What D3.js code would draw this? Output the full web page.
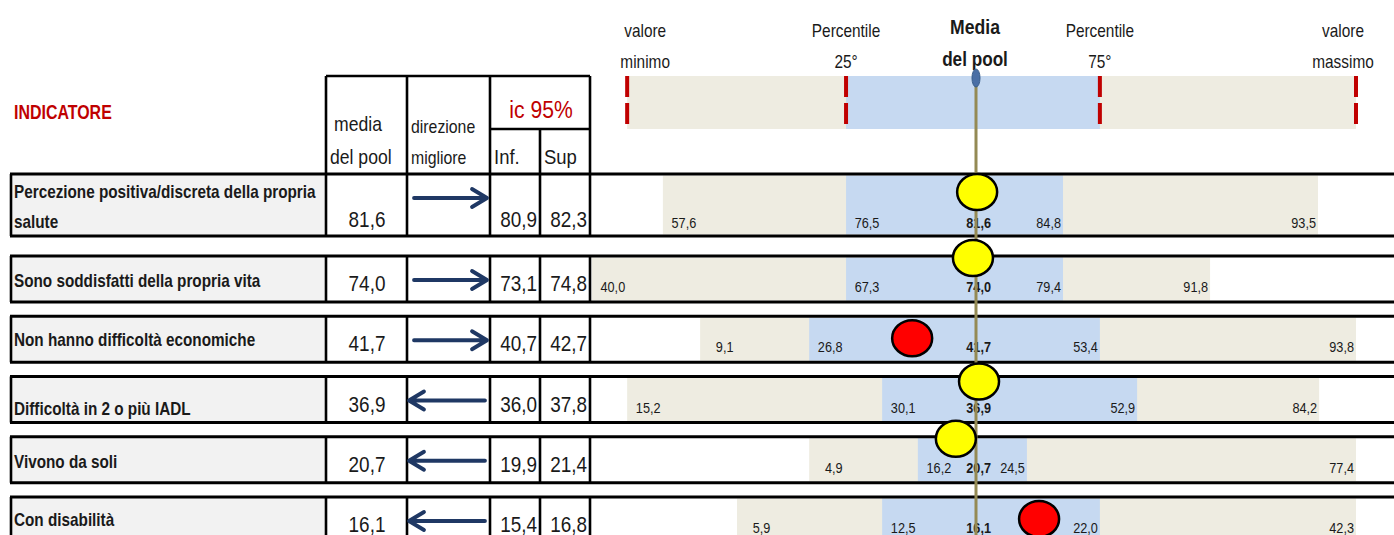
<!DOCTYPE html>
<html><head><meta charset="utf-8">
<script src="https://cdn.jsdelivr.net/npm/d3@7"></script>
<style>
body{margin:0;background:#fff}
svg{display:block}
text{font-family:"Liberation Sans",Arial,sans-serif;fill:#1a1a1a}
</style>
</head><body>
<svg id="chart" width="1394" height="535"></svg>
<script>
// ---------------- DATA ----------------
const indicatorLines = [
  ["Percezione positiva/discreta della propria", "salute"],
  ["Sono soddisfatti della propria vita"],
  ["Non hanno difficoltà economiche"],
  ["Difficoltà in 2 o più IADL"],
  ["Vivono da soli"],
  ["Con disabilità"]
];
const poolMean  = [81.6, 74.0, 41.7, 36.9, 20.7, 16.1];
const direction = [1, 1, 1, -1, -1, -1];          // 1 = higher is better, -1 = lower is better
const ciLow     = [80.9, 73.1, 40.7, 36.0, 19.9, 15.4];
const ciHigh    = [82.3, 74.8, 42.7, 37.8, 21.4, 16.8];
const minValue  = [57.6, 40.0, 9.1, 15.2, 4.9, 5.9];
const p25Value  = [76.5, 67.3, 26.8, 30.1, 16.2, 12.5];
const p75Value  = [84.8, 79.4, 53.4, 52.9, 24.5, 22.0];
const maxValue  = [93.5, 91.8, 93.8, 84.2, 77.4, 42.3];
// standardised spine scores (pool mean = 0, range -1..1)
const minScore    = [-0.824, -1.011, -0.726, -0.918, -0.439, -0.629];
const p25Score    = [-0.342, -0.342, -0.439, -0.247, -0.153, -0.247];
const p75Score    = [0.229, 0.229, 0.326, 0.424, 0.134, 0.326];
const maxScore    = [0.900, 0.616, 1.000, 0.903, 1.000, 1.000];
const regionScore = [0.003, -0.008, -0.168, 0.008, -0.053, 0.166];
const regionStatus = ["simile", "simile", "peggiore", "simile", "simile", "peggiore"];
// legend (header) band
const legendScores = [-0.918, -0.342, 0.326, 1.000];
const legendLabels = [["valore", "minimo"], ["Percentile", "25°"], ["Percentile", "75°"], ["valore", "massimo"]];
const meanLabel = ["Media", "del pool"];

// ---------------- SETUP ----------------
const svg = d3.select("#chart");
const it = d3.formatLocale({decimal: ",", thousands: ".", grouping: [3], currency: ["€", ""]});
const fmt = it.format(".1f");

const x = d3.scaleLinear().domain([-1, 1]).range([596, 1356]);
const rowStep = d3.scaleLinear().domain([1, 5]).range([256, 497]);
const rowTop = i => i === 0 ? 174 : rowStep(i);
const rowH = i => i === 0 ? 62 : 46;
const rows = d3.range(poolMean.length);

const colEdges = [11, 326, 407, 490, 540, 590];
const cellW = 36.4;
const beige = "#eeece1", blue = "#c6d9f1";
const statusColor = {simile: "#ffff00", peggiore: "#ff0000", migliore: "#00b050"};
const markerDy = [18, 2, 22, 5, 2, 22];
const labelDy = [24, 31, 30, 38, 31, 29];
const SX = 0.88;

function txt(parent, str, tx, ty, o = {}) {
  return parent.append("text")
    .attr("transform", `translate(${tx},${ty}) scale(${o.sx || SX},1)`)
    .attr("text-anchor", o.anchor || "start")
    .style("font-size", (o.size || 18) + "px")
    .style("font-weight", o.bold ? "bold" : "normal")
    .style("fill", o.fill || "#1a1a1a")
    .text(str);
}

// ---------------- HEADER ----------------
txt(svg, "INDICATORE", 14, 119, {size: 21, bold: true, sx: 0.76, fill: "#c00000"});

const hdr = svg.append("g");
[[326, 76, 590, 76], [326, 76, 326, 174], [407, 76, 407, 174], [490, 76, 490, 174], [590, 76, 590, 174],
 [490, 129, 590, 129], [540, 129, 540, 174]].forEach(l =>
  hdr.append("line").attr("x1", l[0]).attr("y1", l[1]).attr("x2", l[2]).attr("y2", l[3])
    .attr("stroke", "#000").attr("stroke-width", 2.6));
txt(hdr, "media", 334, 131, {size: 20});
txt(hdr, "del pool", 330, 164, {size: 20});
txt(hdr, "direzione", 411, 133, {size: 18});
txt(hdr, "migliore", 411, 164, {size: 18});
txt(hdr, "ic 95%", 541, 118, {anchor: "middle", size: 24, fill: "#c00000"});
txt(hdr, "Inf.", 494, 164, {size: 21});
txt(hdr, "Sup", 544, 164, {size: 21});

// legend band
hdr.append("rect").attr("x", x(legendScores[0])).attr("y", 76)
  .attr("width", x(legendScores[3]) - x(legendScores[0])).attr("height", 53).attr("fill", beige);
hdr.append("rect").attr("x", x(legendScores[1])).attr("y", 76)
  .attr("width", x(legendScores[2]) - x(legendScores[1])).attr("height", 53).attr("fill", blue);
legendScores.forEach((s, k) => {
  [[76, 97], [103, 124]].forEach(seg =>
    hdr.append("line").attr("x1", x(s)).attr("x2", x(s)).attr("y1", seg[0]).attr("y2", seg[1])
      .attr("stroke", "#c00000").attr("stroke-width", 4));
  const cx = k === 3 ? x(s) - 13 : (k === 0 ? x(s) + 18 : x(s));
  txt(hdr, legendLabels[k][0], cx, 37, {anchor: "middle", size: 17.5});
  txt(hdr, legendLabels[k][1], cx, 68, {anchor: "middle", size: 17.5});
});
txt(hdr, meanLabel[0], x(0) - 1, 34, {anchor: "middle", size: 20, bold: true});
txt(hdr, meanLabel[1], x(0) - 1, 66, {anchor: "middle", size: 19.5, bold: true});

// ---------------- ROWS ----------------
const g = svg.append("g");
rows.forEach(i => {
  const top = rowTop(i), h = rowH(i), bot = top + h;
  g.append("rect").attr("x", 11).attr("y", top).attr("width", 315).attr("height", h).attr("fill", "#f2f2f2");
  g.append("rect").attr("x", x(minScore[i])).attr("y", top + 1.5)
    .attr("width", x(maxScore[i]) - x(minScore[i])).attr("height", h - 3).attr("fill", beige);
  g.append("rect").attr("x", x(p25Score[i])).attr("y", top + 1.5)
    .attr("width", x(p75Score[i]) - x(p25Score[i])).attr("height", h - 3).attr("fill", blue);
  [top, bot].forEach(yy => g.append("line").attr("x1", 10).attr("x2", 1394).attr("y1", yy).attr("y2", yy)
    .attr("stroke", "#000").attr("stroke-width", 3));
  colEdges.forEach(cx => g.append("line").attr("x1", cx).attr("x2", cx).attr("y1", top).attr("y2", bot)
    .attr("stroke", "#000").attr("stroke-width", 2.6));
  indicatorLines[i].forEach((ln, k) =>
    txt(g, ln, 14, top + labelDy[i] + k * 30, {size: 18, bold: true, sx: 0.85}));
  const vy = i === 0 ? bot - 9 : top + 35;
  txt(g, fmt(poolMean[i]), 367, vy, {anchor: "middle", size: 21.5});
  txt(g, fmt(ciLow[i]), 537, vy, {anchor: "end", size: 21.5});
  txt(g, fmt(ciHigh[i]), 587, vy, {anchor: "end", size: 21.5});
  const ay = top + 24;
  const xs = direction[i] > 0 ? [414, 487] : [485, 409];
  const tip = xs[1], back = direction[i] > 0 ? -15 : 15;
  g.append("path")
    .attr("d", `M${xs[0]},${ay}L${tip},${ay}M${tip + back},${ay - 9}L${tip},${ay}L${tip + back},${ay + 9}`)
    .attr("fill", "none").attr("stroke", "#1f3864").attr("stroke-width", 3.8)
    .attr("stroke-linecap", "round").attr("stroke-linejoin", "round");
  const ly = i === 0 ? bot - 8 : top + 36;
  const so = {anchor: "end", size: 15.5, sx: 0.82};
  txt(g, fmt(minValue[i]), x(minScore[i]) + cellW - 3, ly, so);
  txt(g, fmt(p25Value[i]), x(p25Score[i]) + cellW - 3, ly, so);
  txt(g, fmt(poolMean[i]), x(0) + 15, ly, {...so, bold: true});
  txt(g, fmt(p75Value[i]), x(p75Score[i]) - 2, ly, so);
  txt(g, fmt(maxValue[i]), x(maxScore[i]) - 2, ly, so);
});

// ---------------- SPINE ----------------
svg.append("line").attr("x1", x(0)).attr("x2", x(0)).attr("y1", 78).attr("y2", 535)
  .attr("stroke", "#948a54").attr("stroke-width", 3);
svg.append("ellipse").attr("cx", x(0)).attr("cy", 78).attr("rx", 4).attr("ry", 9)
  .attr("fill", "#4a6fa5").attr("stroke", "#385d8a").attr("stroke-width", 1);

// ---------------- MARKERS ----------------
svg.append("g").selectAll("ellipse").data(rows).join("ellipse")
  .attr("cx", i => x(regionScore[i]))
  .attr("cy", i => rowTop(i) + markerDy[i])
  .attr("rx", 20).attr("ry", 18)
  .attr("fill", i => statusColor[regionStatus[i]])
  .attr("stroke", "#000").attr("stroke-width", 2.5);
</script>
</body></html>
